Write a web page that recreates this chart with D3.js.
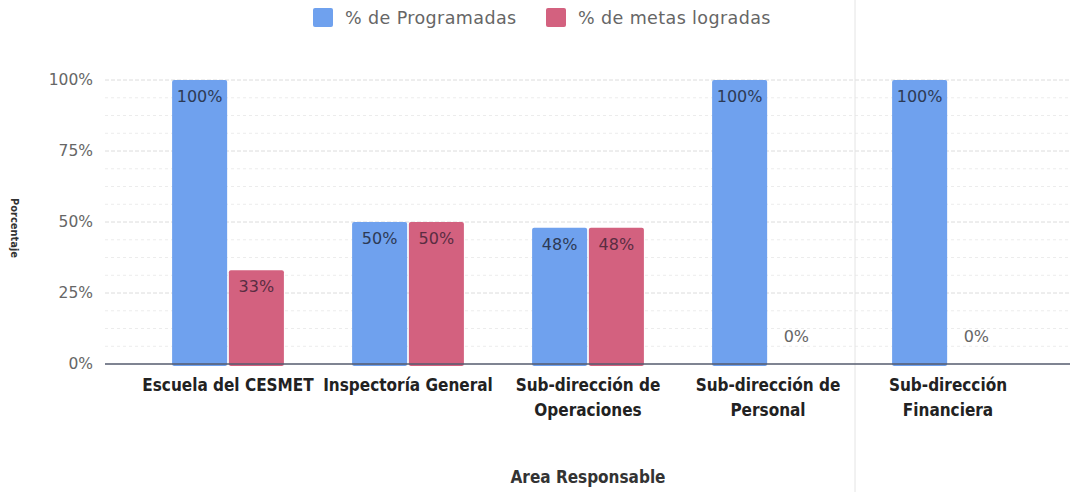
<!DOCTYPE html>
<html>
<head>
<meta charset="utf-8">
<script src="https://cdn.jsdelivr.net/npm/d3@7"></script>
<style>
  body { margin: 0; background: #fff; }
  svg { display: block; }
</style>
</head>
<body>
<div id="chart"></div>
<script>
// DATA
const categories = [
    ["Escuela del CESMET"],
    ["Inspectoría General"],
    ["Sub-dirección de", "Operaciones"],
    ["Sub-dirección de", "Personal"],
    ["Sub-dirección", "Financiera"]
];
const seriesNames = ["% de Programadas", "% de metas logradas"];
const programadas = [100, 50, 48, 100, 100];
const logradas = [33, 50, 48, 0, 0];
const yTicks = [0, 25, 50, 75, 100];

const colors = ["#6fa1ee", "#d3617f"];
const labelColors = ["#2d3a55", "#5a2d42"];
const condensed = 'DejaVu Sans Condensed, DejaVu Sans, sans-serif';

function render() {
    const W = 1070, H = 492;
    const svg = d3.select('#chart').append('svg')
        .attr('width', W)
        .attr('height', H);

    const rows = categories.map((c, i) => ({ idx: i, lines: c, values: [programadas[i], logradas[i]] }));

    const x0 = d3.scaleBand()
        .domain(rows.map(d => d.idx))
        .range([138, 1038])
        .paddingInner(0.36)
        .paddingOuter(0.18);

    const x1 = d3.scaleBand()
        .domain([0, 1])
        .range([0, x0.bandwidth()])
        .padding(0.03);

    const y = d3.scaleLinear()
        .domain([0, 100])
        .range([364, 80]);

    // gridlines
    const minor = d3.range(0, 101, 6.25).filter(v => v % 25 !== 0);
    svg.append('g').selectAll('line.minor')
        .data(minor)
        .enter().append('line')
        .attr('x1', 105).attr('x2', W)
        .attr('y1', d => y(d)).attr('y2', d => y(d))
        .attr('stroke', '#ececec')
        .attr('stroke-dasharray', '3,3')
        .attr('stroke-width', 1);

    svg.append('g').selectAll('line.major')
        .data(yTicks.filter(v => v > 0))
        .enter().append('line')
        .attr('x1', 105).attr('x2', W)
        .attr('y1', d => y(d)).attr('y2', d => y(d))
        .attr('stroke', '#dcdcdc')
        .attr('stroke-dasharray', '4,2')
        .attr('stroke-width', 1);

    // faint page crease
    svg.append('line')
        .attr('x1', 855).attr('x2', 855)
        .attr('y1', 0).attr('y2', H)
        .attr('stroke', '#e4e4e4')
        .attr('stroke-width', 1);

    // y axis labels
    const yAxis = svg.append('g')
        .attr('transform', 'translate(93,0)')
        .call(d3.axisLeft(y).tickValues(yTicks).tickSize(0).tickPadding(0).tickFormat(d => d + '%'));
    yAxis.select('.domain').remove();
    yAxis.selectAll('text')
        .attr('fill', '#666')
        .style('font-family', 'DejaVu Sans, sans-serif')
        .style('font-size', '15.5px');

    // bars
    const groups = svg.append('g').selectAll('g.cat')
        .data(rows)
        .enter().append('g')
        .attr('class', 'cat')
        .attr('transform', d => `translate(${x0(d.idx)},0)`);

    const bars = groups.selectAll('g.bar')
        .data(d => d.values.map((v, s) => ({ v: v, s: s })))
        .enter().append('g')
        .attr('class', 'bar');

    bars.filter(d => d.v > 0).append('rect')
        .attr('x', d => x1(d.s))
        .attr('y', d => y(d.v))
        .attr('width', x1.bandwidth())
        .attr('height', d => y(0) - y(d.v) + 2)
        .attr('rx', 2)
        .attr('fill', d => colors[d.s]);

    bars.append('text')
        .attr('x', d => x1(d.s) + x1.bandwidth() / 2)
        .attr('y', d => d.v > 0 ? y(d.v) + 22 : y(0) - 22)
        .attr('text-anchor', 'middle')
        .attr('fill', d => d.v > 0 ? labelColors[d.s] : '#666')
        .style('font-family', 'DejaVu Sans, sans-serif')
        .style('font-size', '16px')
        .text(d => d.v + '%');

    // baseline
    svg.append('line')
        .attr('x1', 105).attr('x2', W)
        .attr('y1', y(0)).attr('y2', y(0))
        .attr('stroke', '#555b6e')
        .attr('stroke-width', 1.5);

    // category labels
    const catText = svg.append('g').selectAll('text.cat')
        .data(rows)
        .enter().append('text')
        .attr('text-anchor', 'middle')
        .attr('fill', '#222')
        .style('font-family', condensed)
        .style('font-weight', 'bold')
        .style('font-size', '17px')
        .attr('transform', d => `translate(${x0(d.idx) + x0.bandwidth() / 2},391)`);

    catText.selectAll('tspan')
        .data(d => d.lines)
        .enter().append('tspan')
        .attr('x', 0)
        .attr('dy', (d, i) => i === 0 ? 0 : 25)
        .text(d => d);

    // axis titles
    svg.append('text')
        .attr('x', 588).attr('y', 483)
        .attr('text-anchor', 'middle')
        .attr('fill', '#333')
        .style('font-family', condensed)
        .style('font-weight', 'bold')
        .style('font-size', '17px')
        .text('Area Responsable');

    svg.append('text')
        .attr('transform', 'translate(11,228) rotate(90)')
        .attr('text-anchor', 'middle')
        .attr('fill', '#333')
        .style('font-family', condensed)
        .style('font-weight', 'bold')
        .style('font-size', '11px')
        .text('Porcentaje');

    // legend
    const legendX = [313, 546];
    const legend = svg.append('g').selectAll('g.leg')
        .data(seriesNames)
        .enter().append('g')
        .attr('transform', (d, i) => `translate(${legendX[i]},8)`);

    legend.append('rect')
        .attr('width', 20).attr('height', 19)
        .attr('rx', 2)
        .attr('fill', (d, i) => colors[i]);

    legend.append('text')
        .attr('x', 32).attr('y', 16)
        .attr('fill', '#666')
        .style('font-family', 'DejaVu Sans, sans-serif')
        .style('font-size', '17.5px')
        .style('letter-spacing', '0.4px')
        .text(d => d);
}

window.onload = render;
</script>
</body>
</html>
